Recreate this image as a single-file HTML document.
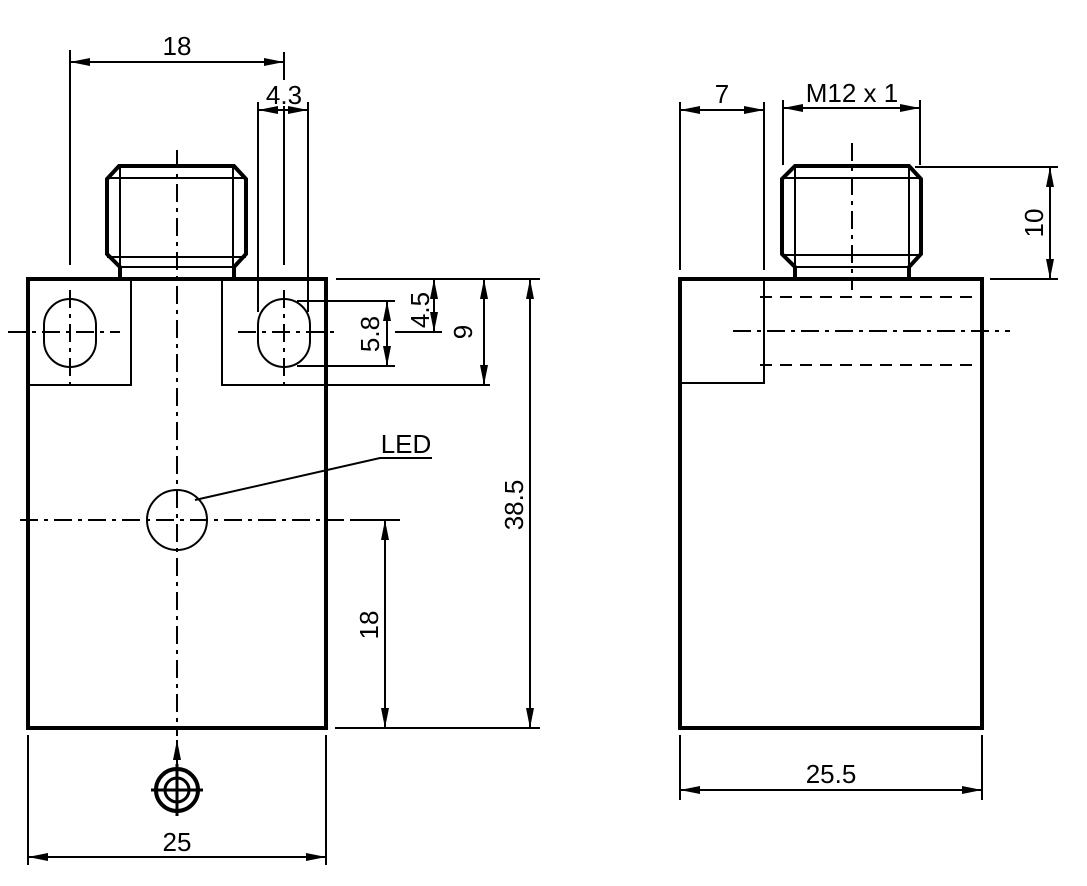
<!DOCTYPE html>
<html><head><style>body{margin:0;background:#fff}svg{display:block}text{font-family:"Liberation Sans",sans-serif;font-size:26px;fill:#000}</style></head>
<body>
<svg width="1087" height="886" viewBox="0 0 1087 886" xmlns="http://www.w3.org/2000/svg">
<defs>
<marker id="a" viewBox="0 0 20 8" refX="20" refY="4" markerWidth="20" markerHeight="9" markerUnits="userSpaceOnUse" orient="auto-start-reverse"><path d="M0,0L20,4L0,8z" fill="#000"/></marker>
</defs>
<g fill="none" stroke="#000">
<rect x="28" y="279" width="298" height="449" stroke-width="4"/>
<path d="M131 279V385H28M222 279V385H326" stroke-width="2"/>
<rect x="44" y="299" width="52" height="68" rx="26" stroke-width="2"/>
<rect x="258" y="299" width="52" height="68" rx="26" stroke-width="2"/>
<path d="M120 277V267L107 254V179L119 166H234L246 179V254L234 267V277" stroke-width="4"/>
<path d="M107 178H246M107 257H246M120 166V267M233 166V267M120 267H234" stroke-width="2"/>
<g stroke-width="2" stroke-dasharray="18,6,4,6">
<path d="M177 150V736"/><path d="M20 520H400"/>
<path d="M8 332H120"/><path d="M70 290V385"/>
<path d="M238 332H340"/><path d="M284 290V385"/>
</g>
<circle cx="177" cy="520" r="30" stroke-width="2"/>
<path d="M195 500L380 458H432" stroke-width="2"/>
<g stroke-width="2">
<path d="M70 50V265M284 52V80M284 106V265"/><path d="M70 62H284" marker-start="url(#a)" marker-end="url(#a)"/>
<path d="M258 102V312M308 102V312"/>
<path d="M258 110H308" marker-start="url(#a)" marker-end="url(#a)"/>
<path d="M297 301H395M297 366H395M395 332H442M336 279H540M326 385H490M335 728H540M350 520H400"/>
<path d="M387 301V366" marker-start="url(#a)" marker-end="url(#a)"/>
<path d="M434 279V332" marker-start="url(#a)" marker-end="url(#a)"/>
<path d="M484 279V385" marker-start="url(#a)" marker-end="url(#a)"/>
<path d="M530 279V728" marker-start="url(#a)" marker-end="url(#a)"/>
<path d="M385 520V728" marker-start="url(#a)" marker-end="url(#a)"/>
<path d="M28 735V865M326 735V865"/>
<path d="M28 857H326" marker-start="url(#a)" marker-end="url(#a)"/>
<path d="M177 765V740" marker-end="url(#a)"/>
</g>
<circle cx="177" cy="790" r="21" stroke-width="4"/>
<circle cx="177" cy="790" r="12" stroke-width="3"/>
<path d="M151 790H203M177 764V816" stroke-width="3"/>
<rect x="680" y="279" width="302" height="449" stroke-width="4"/>
<path d="M764 279V383H680" stroke-width="2"/>
<path d="M760 297H978M760 365H978" stroke-width="2" stroke-dasharray="12,8"/>
<path d="M733 331H1010M852 143V290" stroke-width="2" stroke-dasharray="18,6,4,6"/>
<path d="M795 277V267L782 254V179L795 166H909L921 179V254L909 267V277" stroke-width="4"/>
<path d="M782 178H921M782 255H921M795 166V267M909 166V267M795 267H909" stroke-width="2"/>
<g stroke-width="2">
<path d="M680 102V270M764 102V270"/>
<path d="M680 110H764" marker-start="url(#a)" marker-end="url(#a)"/>
<path d="M783 100V165M920 100V165"/>
<path d="M783 108H920" marker-start="url(#a)" marker-end="url(#a)"/>
<path d="M915 167H1058M990 279H1058"/>
<path d="M1050 167V279" marker-start="url(#a)" marker-end="url(#a)"/>
<path d="M680 735V800M982 735V800"/>
<path d="M680 790H982" marker-start="url(#a)" marker-end="url(#a)"/>
</g>
</g>
<text x="177" y="55" text-anchor="middle">18</text>
<text x="284" y="104" text-anchor="middle">4.3</text>
<text x="406" y="453" text-anchor="middle">LED</text>
<text x="177" y="851" text-anchor="middle">25</text>
<text transform="translate(379,334) rotate(-90)" text-anchor="middle">5.8</text>
<text transform="translate(429,310) rotate(-90)" text-anchor="middle">4.5</text>
<text transform="translate(472,332) rotate(-90)" text-anchor="middle">9</text>
<text transform="translate(523,505) rotate(-90)" text-anchor="middle">38.5</text>
<text transform="translate(378,625) rotate(-90)" text-anchor="middle">18</text>
<text x="722" y="103" text-anchor="middle">7</text>
<text x="852" y="102" text-anchor="middle">M12 x 1</text>
<text transform="translate(1043,223) rotate(-90)" text-anchor="middle">10</text>
<text x="831" y="783" text-anchor="middle">25.5</text>
</svg>
</body></html>
